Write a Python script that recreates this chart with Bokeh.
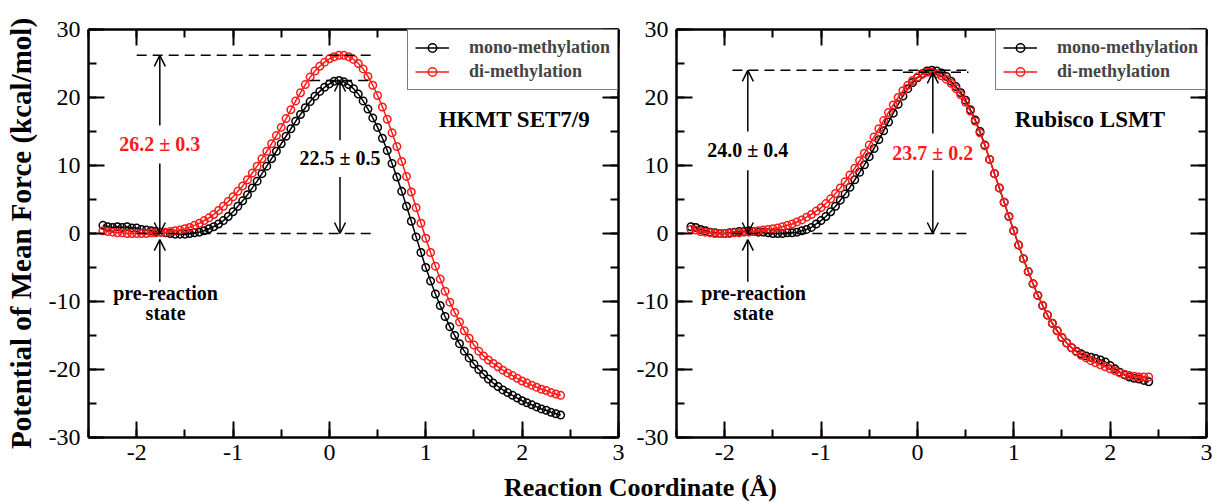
from bokeh.plotting import figure
from bokeh.layouts import row, column
from bokeh.models import (Range1d, LinearAxis, SingleIntervalTicker, Label, Arrow,
                          OpenHead, Legend, LegendItem, CustomJSTickFormatter)
from bokeh.embed import file_html
from bokeh.resources import INLINE

# Reaction coordinate (Angstrom) shared by all four PMF profiles
coord = [-2.35, -2.30, -2.25, -2.20, -2.15, -2.10, -2.05, -2.00, -1.95, -1.90,
         -1.85, -1.80, -1.75, -1.70, -1.65, -1.60, -1.55, -1.50, -1.45, -1.40,
         -1.35, -1.30, -1.25, -1.20, -1.15, -1.10, -1.05, -1.00, -0.95, -0.90,
         -0.85, -0.80, -0.75, -0.70, -0.65, -0.60, -0.55, -0.50, -0.45, -0.40,
         -0.35, -0.30, -0.25, -0.20, -0.15, -0.10, -0.05, 0.00, 0.05, 0.10,
         0.15, 0.20, 0.25, 0.30, 0.35, 0.40, 0.45, 0.50, 0.55, 0.60,
         0.65, 0.70, 0.75, 0.80, 0.85, 0.90, 0.95, 1.00, 1.05, 1.10,
         1.15, 1.20, 1.25, 1.30, 1.35, 1.40, 1.45, 1.50, 1.55, 1.60,
         1.65, 1.70, 1.75, 1.80, 1.85, 1.90, 1.95, 2.00, 2.05, 2.10,
         2.15, 2.20, 2.25, 2.30, 2.35, 2.40]

# HKMT SET7/9 potential of mean force (kcal/mol)
hkmt_mono = [1.2, 1.0, 0.9, 1.0, 0.9, 1.0, 0.8, 0.8, 0.6, 0.5,
             0.4, 0.3, 0.2, 0.1, 0.0, -0.1, -0.1, -0.1, 0.0, 0.1,
             0.2, 0.4, 0.7, 1.0, 1.4, 1.9, 2.5, 3.2, 4.0, 4.8,
             5.7, 6.7, 7.7, 8.8, 9.9, 11.0, 12.1, 13.2, 14.3, 15.4,
             16.5, 17.5, 18.5, 19.4, 20.2, 20.9, 21.5, 22.0, 22.4, 22.5,
             22.3, 21.9, 21.3, 20.5, 19.5, 18.3, 17.0, 15.6, 14.0, 12.2,
             10.3, 8.3, 6.2, 4.0, 1.8, -0.5, -2.8, -5.0, -7.0, -8.9,
             -10.6, -12.2, -13.7, -15.0, -16.2, -17.3, -18.3, -19.2, -20.0, -20.7,
             -21.4, -22.0, -22.5, -23.0, -23.4, -23.8, -24.2, -24.6, -24.9, -25.2,
             -25.5, -25.8, -26.0, -26.3, -26.5, -26.7]
hkmt_di = [0.4, 0.3, 0.2, 0.1, 0.1, 0.0, 0.0, 0.0, 0.0, 0.0,
           0.1, 0.1, 0.2, 0.2, 0.3, 0.4, 0.5, 0.7, 0.9, 1.2,
           1.5, 1.9, 2.3, 2.8, 3.4, 4.0, 4.7, 5.4, 6.2, 7.0,
           7.9, 8.9, 9.9, 11.0, 12.1, 13.2, 14.4, 15.6, 16.9, 18.2,
           19.5, 20.7, 21.9, 23.0, 23.9, 24.6, 25.2, 25.7, 26.0, 26.2,
           26.2, 26.0, 25.6, 25.0, 24.2, 23.1, 21.8, 20.3, 18.6, 16.8,
           14.8, 12.8, 10.6, 8.4, 6.1, 3.8, 1.5, -0.7, -2.8, -4.8,
           -6.7, -8.5, -10.1, -11.6, -13.0, -14.3, -15.4, -16.4, -17.3, -18.0,
           -18.6, -19.1, -19.6, -20.1, -20.5, -20.9, -21.3, -21.7, -22.0, -22.3,
           -22.6, -22.9, -23.1, -23.4, -23.6, -23.8]

# Rubisco LSMT potential of mean force (kcal/mol)
rubisco_mono = [1.0, 0.9, 0.6, 0.4, 0.2, 0.1, 0.0, 0.0, 0.1, 0.2,
                0.3, 0.3, 0.4, 0.3, 0.2, 0.2, 0.1, 0.0, 0.0, 0.0,
                0.1, 0.1, 0.2, 0.4, 0.6, 0.9, 1.4, 1.9, 2.5, 3.2,
                4.0, 4.9, 5.8, 6.8, 7.9, 9.0, 10.1, 11.3, 12.5, 13.8,
                15.1, 16.4, 17.7, 19.0, 20.2, 21.3, 22.2, 22.9, 23.5, 23.9,
                24.0, 23.9, 23.6, 23.1, 22.4, 21.6, 20.7, 19.6, 18.2, 16.7,
                15.0, 13.0, 10.9, 8.8, 6.7, 4.6, 2.5, 0.4, -1.7, -3.7,
                -5.6, -7.4, -9.1, -10.6, -12.0, -13.2, -14.3, -15.3, -16.1, -16.8,
                -17.3, -17.7, -18.0, -18.2, -18.4, -18.6, -18.9, -19.4, -19.9, -20.4,
                -20.8, -21.1, -21.3, -21.4, -21.6, -21.8]
rubisco_di = [0.6, 0.5, 0.3, 0.2, 0.1, 0.0, 0.0, 0.0, 0.0, 0.1,
              0.1, 0.2, 0.2, 0.3, 0.4, 0.5, 0.6, 0.7, 0.8, 1.0,
              1.2, 1.4, 1.7, 2.0, 2.4, 2.8, 3.3, 3.8, 4.4, 5.1,
              5.9, 6.7, 7.6, 8.6, 9.6, 10.7, 11.8, 13.0, 14.2, 15.4,
              16.6, 17.8, 18.9, 20.0, 21.0, 21.8, 22.5, 23.0, 23.4, 23.7,
              23.7, 23.5, 23.2, 22.7, 22.1, 21.3, 20.4, 19.3, 18.0, 16.5,
              14.8, 12.9, 10.9, 8.8, 6.7, 4.6, 2.5, 0.4, -1.7, -3.7,
              -5.6, -7.4, -9.1, -10.6, -12.0, -13.2, -14.3, -15.3, -16.1, -16.8,
              -17.4, -17.9, -18.3, -18.7, -19.0, -19.3, -19.6, -19.9, -20.2, -20.5,
              -20.7, -20.9, -21.0, -21.1, -21.1, -21.1]

# Barrier heights (value, uncertainty) in kcal/mol
hkmt_barrier_mono = (22.5, 0.5)
hkmt_barrier_di = (26.2, 0.3)
rubisco_barrier_mono = (24.0, 0.4)
rubisco_barrier_di = (23.7, 0.2)

series_labels = ["mono-methylation", "di-methylation"]
panel_titles = ["HKMT SET7/9", "Rubisco LSMT"]

SERIF = "Liberation Serif"
RED = "#ff1a1a"
BLACK = "#000000"
PANEL_H = 471


def style_axis(ax, ticker, labels=True):
    ax.ticker = ticker
    ax.axis_line_width = 2.5
    ax.axis_line_color = BLACK
    ax.major_tick_in = 16
    ax.major_tick_out = 0
    ax.minor_tick_in = 8
    ax.minor_tick_out = 0
    ax.major_tick_line_width = 2
    ax.minor_tick_line_width = 2
    ax.major_label_text_font = SERIF
    ax.major_label_text_color = BLACK
    if labels:
        # plain hyphen for negative numbers
        ax.formatter = CustomJSTickFormatter(code="return tick.toString()")
        ax.major_label_text_font_size = "24px"
        ax.major_label_standoff = 7
    else:
        ax.formatter = CustomJSTickFormatter(code="return ''")
        ax.major_label_text_font_size = "1px"
        ax.major_label_standoff = 0


def bold_label(p, x, y, text, color=BLACK, size="20px"):
    p.add_layout(Label(x=x, y=y, text=text, text_align="center",
                       text_baseline="middle", text_font=SERIF,
                       text_font_style="bold", text_font_size=size,
                       text_color=color))


def arrow(p, x, y0, y1):
    p.add_layout(Arrow(end=OpenHead(size=11, line_width=1.5, line_color=BLACK),
                       x_start=x, y_start=y0, x_end=x, y_end=y1,
                       line_width=1.5, line_color=BLACK))


def barrier(p, x, top, gap_hi, gap_lo, label_y, text, color):
    # double arrow from the reactant level (0) up to the barrier top,
    # interrupted by the value label
    arrow(p, x, gap_hi, top)
    arrow(p, x, gap_lo, 0)
    bold_label(p, x, label_y, text, color)


def make_panel(mono, di, width, border_left, border_right, ylabel):
    p = figure(width=width, height=PANEL_H,
               x_range=Range1d(-2.5, 3), y_range=Range1d(-30, 30),
               output_backend="svg", toolbar_location=None,
               x_axis_location=None, y_axis_location=None,
               min_border_left=border_left, min_border_right=border_right,
               min_border_top=29, min_border_bottom=PANEL_H - 437,
               outline_line_color=None, background_fill_color="white",
               border_fill_color="white")
    p.xgrid.visible = False
    p.ygrid.visible = False

    xt = lambda: SingleIntervalTicker(interval=1, num_minor_ticks=2)
    yt = lambda: SingleIntervalTicker(interval=10, num_minor_ticks=2)

    bottom = LinearAxis()
    style_axis(bottom, xt())
    top = LinearAxis()
    style_axis(top, xt(), labels=False)
    left = LinearAxis()
    style_axis(left, yt())
    left.major_label_standoff = 8
    right = LinearAxis()
    style_axis(right, yt(), labels=False)
    if ylabel:
        left.axis_label = ylabel
        left.axis_label_text_font = SERIF
        left.axis_label_text_font_style = "bold"
        left.axis_label_text_font_size = "29px"
        left.axis_label_text_color = BLACK
        left.axis_label_standoff = 9
    p.add_layout(bottom, "below")
    p.add_layout(top, "above")
    p.add_layout(left, "left")
    p.add_layout(right, "right")

    r_ml = p.line(coord, mono, line_color=BLACK, line_width=1.5)
    r_ms = p.scatter(coord, mono, marker="circle", size=7.5, fill_color=None,
                     line_color=BLACK, line_width=1.5)
    r_dl = p.line(coord, di, line_color=RED, line_width=1.5)
    r_ds = p.scatter(coord, di, marker="circle", size=7.5, fill_color=None,
                     line_color=RED, line_width=1.5)

    legend = Legend(items=[LegendItem(label=series_labels[0], renderers=[r_ml, r_ms]),
                           LegendItem(label=series_labels[1], renderers=[r_dl, r_ds])],
                    location="top_right", margin=0, padding=7, spacing=3,
                    glyph_width=34, glyph_height=21, label_height=21,
                    label_standoff=20, label_text_font=SERIF,
                    label_text_font_style="bold", label_text_font_size="18px",
                    border_line_color=BLACK, border_line_width=1.5,
                    background_fill_color="white", background_fill_alpha=1)
    p.add_layout(legend)

    # reactant state marker
    arrow(p, -1.76, -7.1, -0.9)
    bold_label(p, -1.70, -8.75, "pre-reaction", size="20px")
    bold_label(p, -1.70, -11.7, "state", size="20px")
    return p


fmt = lambda b: f"{b[0]:.1f} \u00b1 {b[1]:.1f}"

# ---- HKMT SET7/9 ----
p1 = make_panel(hkmt_mono, hkmt_di, 628, 88, 10,
                "Potential of Mean Force (kcal/mol)")
p1.segment(x0=[-2.0, -2.0, -0.2], x1=[0.44, 0.44, 0.42],
           y0=[hkmt_barrier_di[0], 0, hkmt_barrier_mono[0]],
           y1=[hkmt_barrier_di[0], 0, hkmt_barrier_mono[0]],
           line_color=BLACK, line_width=1.5, line_dash="10 6")
barrier(p1, -1.76, hkmt_barrier_di[0], 15.9, 10.3, 13.1, fmt(hkmt_barrier_di), RED)
barrier(p1, 0.11, hkmt_barrier_mono[0], 13.7, 8.3, 11.1, fmt(hkmt_barrier_mono), BLACK)
bold_label(p1, 1.92, 16.7, panel_titles[0], size="23px")

# ---- Rubisco LSMT ----
p2 = make_panel(rubisco_mono, rubisco_di, 584, 48, 6, None)
p2.segment(x0=[-1.92, -1.92, -0.15], x1=[0.53, 0.53, 0.53],
           y0=[rubisco_barrier_mono[0], 0, rubisco_barrier_di[0]],
           y1=[rubisco_barrier_mono[0], 0, rubisco_barrier_di[0]],
           line_color=BLACK, line_width=1.5, line_dash="10 6")
barrier(p2, -1.76, rubisco_barrier_mono[0], 15.0, 9.3, 12.3, fmt(rubisco_barrier_mono), BLACK)
barrier(p2, 0.16, rubisco_barrier_di[0], 14.7, 9.3, 11.8, fmt(rubisco_barrier_di), RED)
bold_label(p2, 1.79, 16.7, panel_titles[1], size="23px")

# shared x-axis title under both panels
p3 = figure(width=1212, height=502 - PANEL_H, x_range=Range1d(0, 1212),
            y_range=Range1d(0, 1), output_backend="svg", toolbar_location=None,
            x_axis_location=None, y_axis_location=None, min_border=0,
            outline_line_color=None, border_fill_color="white")
p3.xgrid.visible = False
p3.ygrid.visible = False
p3.add_layout(Label(x=640, y=0.5, text="Reaction Coordinate (\u00c5)",
                    text_align="center", text_baseline="middle",
                    text_font=SERIF, text_font_style="bold",
                    text_font_size="26px", text_color=BLACK))

layout = column(row(p1, p2), p3)
open("out.html", "w").write(file_html(layout, INLINE))
